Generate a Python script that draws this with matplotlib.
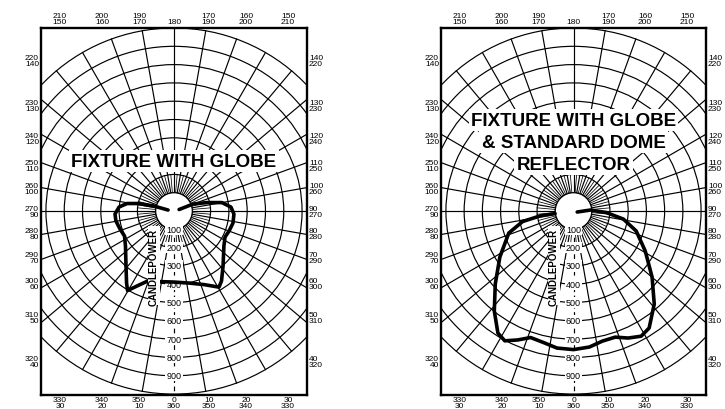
import numpy as np
import matplotlib
matplotlib.use("Agg")
import matplotlib.pyplot as plt
from matplotlib.patches import Circle

plt.rcParams["font.family"] = ["Liberation Sans", "DejaVu Sans"]

# Candlepower distribution: angle (deg, 0 = straight down) and candlepower
globe_angle = [260.5, 256, 257.9, 260.9, 265.8, 272.9, 279.8, 288.4, 296.8, 305.8, 318.9,
               326.6, 329.7, 333.7, 339.3, 348, 360, 11.8, 22.2, 30.6, 34.2, 41.7, 55, 63,
               70, 78.5, 87.1, 94, 100, 104.4, 110.2, 106.7]
globe_cp = [33, 113, 196, 260, 301, 323, 322, 311, 303, 327, 399, 471, 503, 457, 409, 394,
            388, 402, 434, 483, 462, 403, 333, 313, 320, 329, 328, 312, 266, 186, 110, 29]

dome_angle = [277.7, 278.4, 281.6, 288.7, 301.9, 312.9, 321.5, 328.1, 332, 336.5, 341.2,
              347.1, 353.1, 360, 6.7, 12.6, 18.4, 23.4, 28.5, 33, 41.1, 50.1, 61, 72.4,
              80.9, 87.4, 93.4, 75.3]
dome_cp = [102, 188, 285, 375, 476, 586, 698, 785, 803, 768, 730, 737, 754, 757, 748, 728,
           726, 756, 778, 762, 674, 562, 450, 361, 277, 180, 93, 21]

cp_rings = [100, 200, 300, 400, 500, 600, 700, 800, 900, 1000]
cp_labels = [100, 200, 300, 400, 500, 600, 700, 800, 900]

left_ticks = [320, 310, 300, 290, 280, 270, 260, 250, 240, 230, 220]
top_ticks = [210, 200, 190, 180, 170, 160, 150]
right_ticks = [140, 130, 120, 110, 100, 90, 80, 70, 60, 50, 40]
bottom_ticks = [330, 340, 350, 0, 10, 20, 30]

title_left = ["FIXTURE WITH GLOBE"]
title_right = ["FIXTURE WITH GLOBE", "& STANDARD DOME", "REFLECTOR"]


def polar_xy(angle, cp):
    a = np.radians(np.asarray(angle, dtype=float))
    cp = np.asarray(cp, dtype=float)
    return cp * np.sin(a), -cp * np.cos(a)


def tick_text(a):
    if a == 180:
        return "180"
    other = 360 - a if a != 0 else 360
    return f"{a}\n{other}"


def draw_panel(ax, angles, cps, titles, title_y):
    ax.set_xlim(-727, 727)
    ax.set_ylim(-1005, 1000)
    ax.set_xticks([])
    ax.set_yticks([])
    for sp in ax.spines.values():
        sp.set_linewidth(1.7)
        sp.set_color("black")

    # concentric candlepower circles
    for r in cp_rings:
        ax.add_patch(Circle((0, 0), r, fill=False, ec="black", lw=0.85, zorder=1))
    # radial lines every 10 degrees
    for a in range(0, 360, 10):
        x, y = polar_xy([a, a], [100, 1000])
        ls = (0, (4, 3)) if a == 0 else "-"
        ax.plot(x, y, color="black", lw=0.85, ls=ls, zorder=1)
    # finer radial lines in the inner ring
    for a in range(5, 360, 10):
        x, y = polar_xy([a, a], [100, 200])
        ax.plot(x, y, color="black", lw=0.55, zorder=1)
    ax.add_patch(Circle((0, 0), 100, fc="white", ec="black", lw=0.85, zorder=2))

    for cp in cp_labels:
        ax.text(0, -cp, str(cp), ha="center", va="center", fontsize=6.5, zorder=3,
                bbox=dict(boxstyle="square,pad=0.12", fc="white", ec="none"))

    x, y = polar_xy(angles, cps)
    ax.plot(x, y, color="black", lw=2.6, solid_joinstyle="round",
            solid_capstyle="round", zorder=4)

    ax.text(-109, -300, "CANDLEPOWER", rotation=90, fontsize=7, fontweight="bold",
            ha="center", va="center", zorder=6,
            bbox=dict(boxstyle="square,pad=0.1", fc="white", ec="none"))

    for t, ty in zip(titles, title_y):
        ax.text(0, ty, t, fontsize=13.5, fontweight="bold", ha="center", va="center",
                zorder=6, bbox=dict(boxstyle="square,pad=0.12", fc="white", ec="none"))

    # angle labels round the frame
    fs = 6
    for a in left_ticks:
        r = np.radians(a)
        ty = -690 * np.cos(r) / abs(np.sin(r))
        ax.text(-738, ty, tick_text(a), ha="right", va="center", fontsize=fs,
                linespacing=0.8, clip_on=False)
    for a in right_ticks:
        r = np.radians(a)
        ty = -690 * np.cos(r) / abs(np.sin(r))
        ax.text(738, ty, tick_text(a), ha="left", va="center", fontsize=fs,
                linespacing=0.8, clip_on=False)
    for a in top_ticks:
        r = np.radians(a)
        tx = 1080 * np.sin(r) / abs(np.cos(r))
        ax.text(tx, 1018, tick_text(a), ha="center", va="bottom", fontsize=fs,
                linespacing=0.8, clip_on=False)
    for a in bottom_ticks:
        r = np.radians(a)
        tx = 1080 * np.sin(r) / abs(np.cos(r))
        ax.text(tx, -1012, tick_text(a), ha="center", va="top", fontsize=fs,
                linespacing=0.8, clip_on=False)


fig = plt.figure(figsize=(7.25, 4.1), dpi=100)
ax1 = fig.add_axes([41 / 725, 14 / 410, 266 / 725, 367 / 410])
ax2 = fig.add_axes([441 / 725, 14 / 410, 265 / 725, 367 / 410])

draw_panel(ax1, globe_angle, globe_cp, title_left, [273])
draw_panel(ax2, dome_angle, dome_cp, title_right, [497, 377, 257])

fig.savefig("out.png", dpi=100)
